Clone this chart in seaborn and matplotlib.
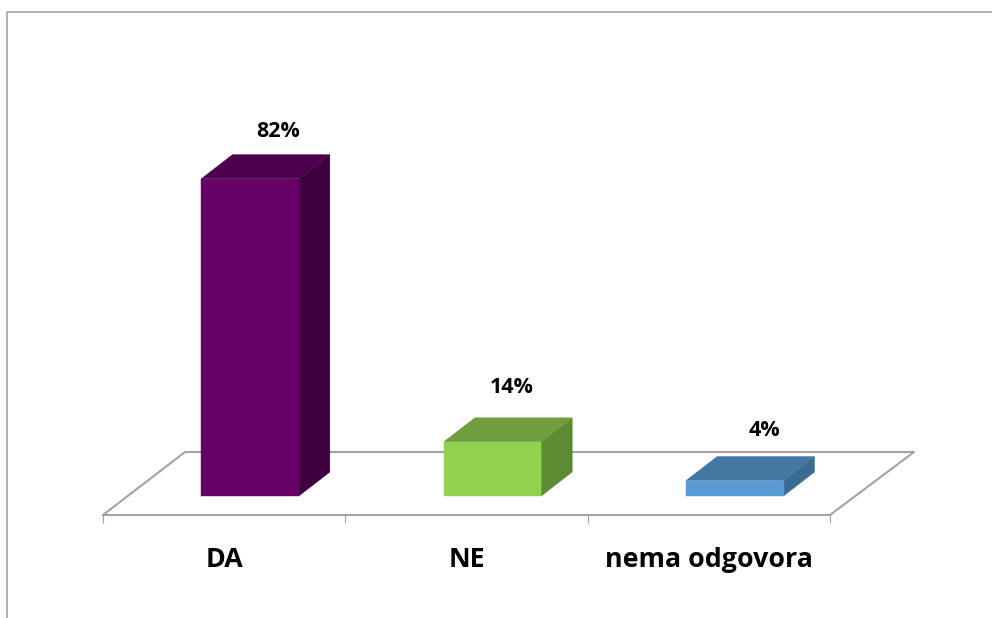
import matplotlib
matplotlib.use("Agg")
import matplotlib.pyplot as plt
import seaborn as sns
from matplotlib.lines import Line2D
from matplotlib.patches import Polygon

categories = ["DA", "NE", "nema odgovora"]
values = [82, 14, 4]
value_labels = ["82%", "14%", "4%"]

front_colors = ["#660066", "#92d050", "#5b9bd5"]
top_colors = ["#4d004d", "#6f9e3e", "#4577a3"]
side_colors = ["#3f003f", "#5e8a33", "#3b6a94"]

grey = "#a3a3a3"

sns.set_theme(style="white")
plt.rcParams["font.family"] = ["Open Sans", "DejaVu Sans"]

W, H = 992, 618
fig = plt.figure(figsize=(W / 100, H / 100), dpi=100)

# axes box in pixels of the picture
left, right, bottom, top = 103, 830, 515, 155
ax = fig.add_axes([left / W, 1 - bottom / H, (right - left) / W, (bottom - top) / H])

sns.barplot(x=categories, y=values, hue=categories, palette=front_colors,
            saturation=1, width=0.402, legend=False, ax=ax, zorder=3)

px_y = 3.87  # pixels per percent
ax.set_xlim(-0.5, 2.5)
ax.set_ylim(-19 / px_y, (496 - top) / px_y)
px_x = (right - left) / 3
to_x = lambda p: p / px_x
to_y = lambda p: p / px_y

# bars stand back from the front edge of the floor
shift = to_x(26)
depth_x, depth_y = to_x(31), to_y(24)
floor_x, floor_y = to_x(82), to_y(63)
base = ax.get_ylim()[0]

# floor of the 3d box
floor = [(-0.5, base), (-0.5 + floor_x, base + floor_y),
         (2.5 + to_x(84), base + floor_y), (2.5, base)]
ax.add_line(Line2D(*zip(*floor), color=grey, lw=1.5, clip_on=False, zorder=1))

label_dx = [-3, -12, -1]
label_dy = [23, 30, 26]

for i, bar in enumerate(ax.patches):
    bar.set_x(bar.get_x() + shift)
    bar.set_edgecolor(front_colors[i])
    bar.set_linewidth(0.3)
    x0, x1 = bar.get_x(), bar.get_x() + bar.get_width()
    h = bar.get_height()
    ax.add_patch(Polygon([(x1, 0), (x1 + depth_x, depth_y), (x1 + depth_x, h + depth_y), (x1, h)],
                         facecolor=side_colors[i], edgecolor=side_colors[i], lw=0.3,
                         clip_on=False, zorder=2.9))
    ax.add_patch(Polygon([(x0, h), (x0 + depth_x, h + depth_y), (x1 + depth_x, h + depth_y), (x1, h)],
                         facecolor=top_colors[i], edgecolor=top_colors[i], lw=0.3,
                         clip_on=False, zorder=2.9))
    ax.annotate(value_labels[i], (x0 + bar.get_width() / 2 + depth_x, h + depth_y),
                xytext=(label_dx[i], label_dy[i]), textcoords="offset pixels",
                ha="center", va="center", fontsize=15.5, fontweight="bold", color="black",
                annotation_clip=False)

sns.despine(ax=ax, left=True, top=True, right=True)
ax.spines["bottom"].set_color(grey)
ax.spines["bottom"].set_linewidth(1.5)
ax.patch.set_alpha(0)
ax.set_yticks([])
ax.set_xticks([-0.5, 0.5, 1.5, 2.5])
ax.set_xticklabels([])
ax.set_xticks([0, 1, 2], labels=categories, minor=True)
ax.tick_params(axis="x", which="major", length=5.8, width=0.8, color=grey, bottom=True)
ax.tick_params(axis="x", which="minor", length=0, pad=23, labelsize=19.3, labelcolor="black", bottom=False)
for t in ax.get_xticklabels(minor=True):
    t.set_fontweight("bold")

# chart area border, cut by the picture edge
fig.add_artist(Line2D([7 / W, 7 / W, 1], [0, 1 - 12 / H, 1 - 12 / H], color=grey, lw=1.2))

fig.savefig("out.png", dpi=100)
plt.close(fig)
